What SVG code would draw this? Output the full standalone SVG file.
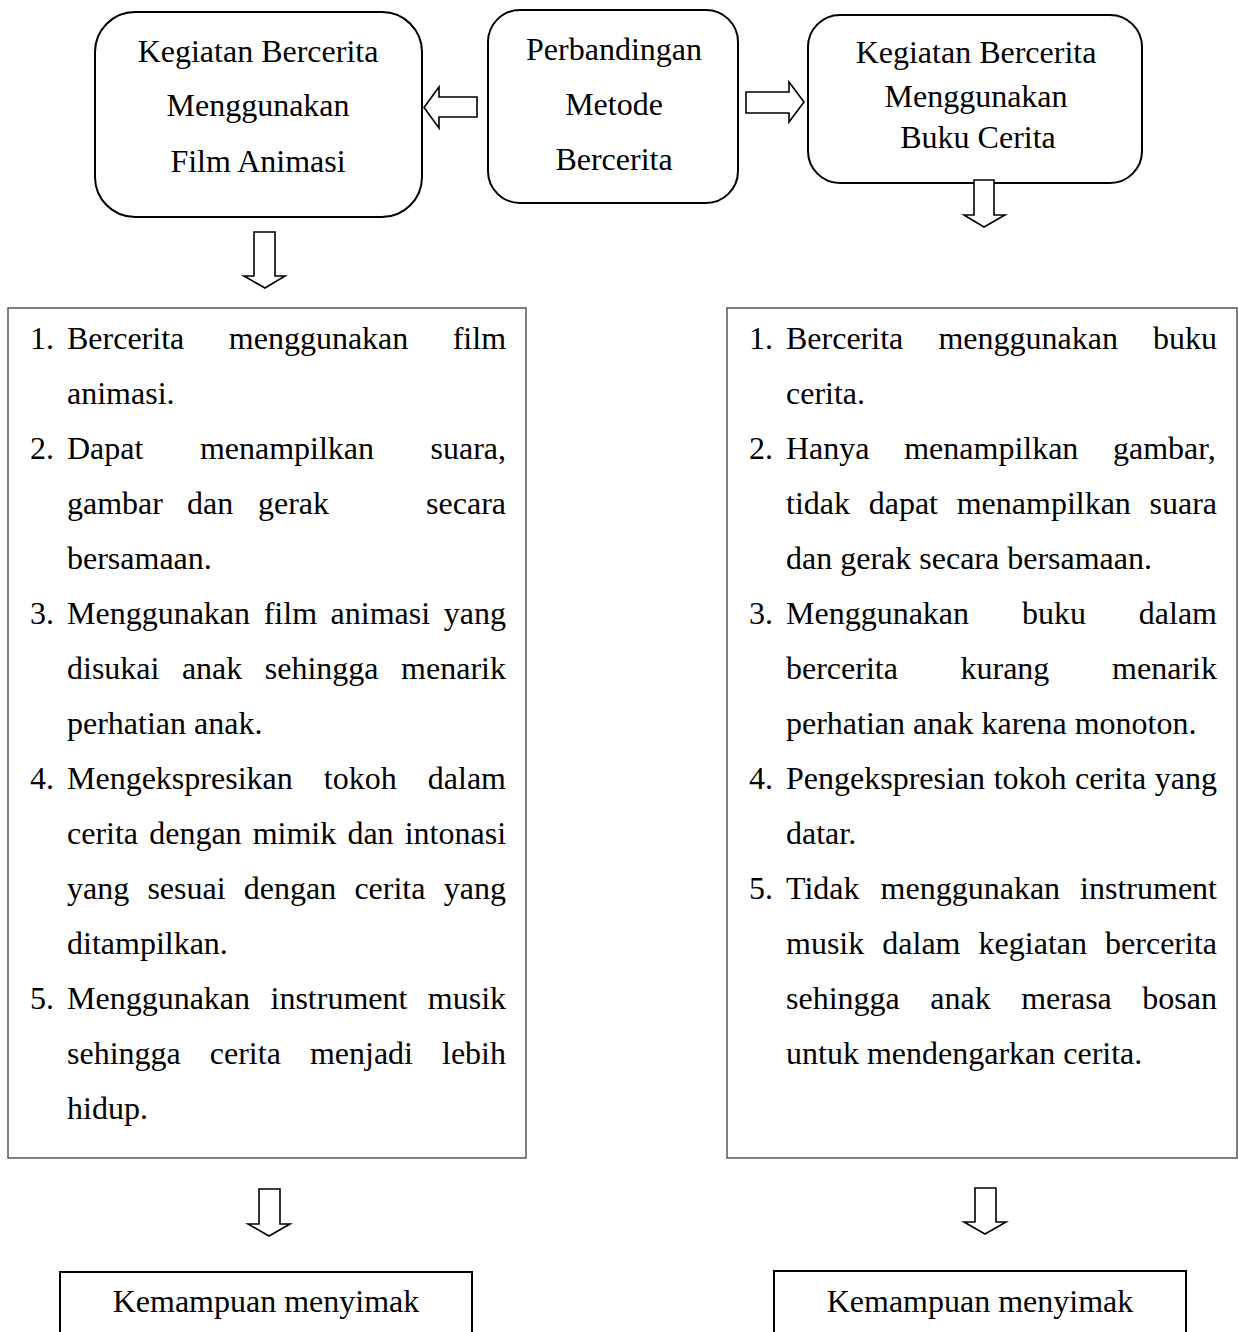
<svg xmlns="http://www.w3.org/2000/svg" width="1238" height="1332" viewBox="0 0 1238 1332">
<style>
.t{font-family:"Liberation Serif","Times New Roman",serif;font-size:32px;fill:#000}
.c{text-anchor:middle}
.rb{fill:#fff;stroke:#000;stroke-width:2}
.lb{fill:#fff;stroke:#555;stroke-width:1.5}
.ar{fill:#fff;stroke:#000;stroke-width:1.6;stroke-linejoin:miter}
</style>
<rect width="1238" height="1332" fill="#fff"/>

<g id="node-film">
<rect class="rb" x="95" y="12" width="327" height="205" rx="40"/>
<text class="t c" x="258" y="62">Kegiatan Bercerita</text>
<text class="t c" x="258" y="116">Menggunakan</text>
<text class="t c" x="258" y="172">Film Animasi</text>
</g>

<g id="node-perbandingan">
<rect class="rb" x="488" y="10" width="250" height="193" rx="32"/>
<text class="t c" x="614" y="60">Perbandingan</text>
<text class="t c" x="614" y="115">Metode</text>
<text class="t c" x="614" y="170">Bercerita</text>
</g>

<g id="node-buku">
<rect class="rb" x="808" y="15" width="334" height="168" rx="32"/>
<text class="t c" x="976" y="63">Kegiatan Bercerita</text>
<text class="t c" x="976" y="107">Menggunakan</text>
<text class="t c" x="978" y="148">Buku Cerita</text>
</g>

<g id="node-list-film">
<rect class="lb" x="8" y="308" width="518" height="850"/>
<text class="t" y="349"><tspan x="30">1.</tspan><tspan x="67">Bercerita</tspan><tspan x="228.8">menggunakan</tspan><tspan x="452.7">film</tspan></text>
<text class="t" y="404"><tspan x="67">animasi.</tspan></text>
<text class="t" y="459"><tspan x="30">2.</tspan><tspan x="67">Dapat</tspan><tspan x="199.9">menampilkan</tspan><tspan x="430.5">suara,</tspan></text>
<text class="t" y="514"><tspan x="67">gambar</tspan><tspan x="187">dan</tspan><tspan x="258">gerak</tspan><tspan x="426.1">secara</tspan></text>
<text class="t" y="569"><tspan x="67">bersamaan.</tspan></text>
<text class="t" y="624"><tspan x="30">3.</tspan><tspan x="67">Menggunakan</tspan><tspan x="263.7">film</tspan><tspan x="330.6">animasi</tspan><tspan x="443.8">yang</tspan></text>
<text class="t" y="679"><tspan x="67">disukai</tspan><tspan x="181.9">anak</tspan><tspan x="264.8">sehingga</tspan><tspan x="401.1">menarik</tspan></text>
<text class="t" y="734"><tspan x="67">perhatian anak.</tspan></text>
<text class="t" y="789"><tspan x="30">4.</tspan><tspan x="67">Mengekspresikan</tspan><tspan x="323.8">tokoh</tspan><tspan x="427.8">dalam</tspan></text>
<text class="t" y="844"><tspan x="67">cerita</tspan><tspan x="149.2">dengan</tspan><tspan x="252.7">mimik</tspan><tspan x="347.4">dan</tspan><tspan x="404.7">intonasi</tspan></text>
<text class="t" y="899"><tspan x="67">yang</tspan><tspan x="147.4">sesuai</tspan><tspan x="243.8">dengan</tspan><tspan x="354.4">cerita</tspan><tspan x="443.8">yang</tspan></text>
<text class="t" y="954"><tspan x="67">ditampilkan.</tspan></text>
<text class="t" y="1009"><tspan x="30">5.</tspan><tspan x="67">Menggunakan</tspan><tspan x="270.5">instrument</tspan><tspan x="427.8">musik</tspan></text>
<text class="t" y="1064"><tspan x="67">sehingga</tspan><tspan x="209.8">cerita</tspan><tspan x="309.9">menjadi</tspan><tspan x="442">lebih</tspan></text>
<text class="t" y="1119"><tspan x="67">hidup.</tspan></text>
</g>

<g id="node-list-buku">
<rect class="lb" x="727" y="308" width="510" height="850"/>
<text class="t" y="349"><tspan x="749">1.</tspan><tspan x="786">Bercerita</tspan><tspan x="938.4">menggunakan</tspan><tspan x="1153">buku</tspan></text>
<text class="t" y="404"><tspan x="786">cerita.</tspan></text>
<text class="t" y="459"><tspan x="749">2.</tspan><tspan x="786">Hanya</tspan><tspan x="904.2">menampilkan</tspan><tspan x="1113">gambar,</tspan></text>
<text class="t" y="514"><tspan x="786">tidak</tspan><tspan x="868.7">dapat</tspan><tspan x="956.7">menampilkan</tspan><tspan x="1149.5">suara</tspan></text>
<text class="t" y="569"><tspan x="786">dan gerak secara bersamaan.</tspan></text>
<text class="t" y="624"><tspan x="749">3.</tspan><tspan x="786">Menggunakan</tspan><tspan x="1022">buku</tspan><tspan x="1138.8">dalam</tspan></text>
<text class="t" y="679"><tspan x="786">bercerita</tspan><tspan x="960.5">kurang</tspan><tspan x="1112.1">menarik</tspan></text>
<text class="t" y="734"><tspan x="786">perhatian anak karena monoton.</tspan></text>
<text class="t" y="789"><tspan x="749">4.</tspan><tspan x="786">Pengekspresian</tspan><tspan x="993.7">tokoh</tspan><tspan x="1075.1">cerita</tspan><tspan x="1154.8">yang</tspan></text>
<text class="t" y="844"><tspan x="786">datar.</tspan></text>
<text class="t" y="899"><tspan x="749">5.</tspan><tspan x="786">Tidak</tspan><tspan x="880.6">menggunakan</tspan><tspan x="1080.1">instrument</tspan></text>
<text class="t" y="954"><tspan x="786">musik</tspan><tspan x="882.3">dalam</tspan><tspan x="978.6">kegiatan</tspan><tspan x="1105.1">bercerita</tspan></text>
<text class="t" y="1009"><tspan x="786">sehingga</tspan><tspan x="930.3">anak</tspan><tspan x="1021.2">merasa</tspan><tspan x="1142.3">bosan</tspan></text>
<text class="t" y="1064"><tspan x="786">untuk mendengarkan cerita.</tspan></text>
</g>

<g id="node-hasil-film">
<rect class="rb" x="60" y="1272" width="412" height="80"/>
<text class="t c" x="266" y="1312">Kemampuan menyimak</text>
</g>

<g id="node-hasil-buku">
<rect class="rb" x="774" y="1271" width="412" height="80"/>
<text class="t c" x="980" y="1312">Kemampuan menyimak</text>
</g>

<g id="connectors">
<polygon class="ar" points="424,107.5 439,87 439,97 477,97 477,117 439,117 439,128"/>
<polygon class="ar" points="746,92 789,92 789,82 804,102 789,122 789,113 746,113"/>
<polygon class="ar" points="254,232 275,232 275,276 285,276 265,288 244,276 254,276"/>
<polygon class="ar" points="974,180 994,180 994,215 1005,215 984,227 964,215 974,215"/>
<polygon class="ar" points="259,1189 280,1189 280,1224 290,1224 269,1236 248,1224 259,1224"/>
<polygon class="ar" points="975,1188 996,1188 996,1222 1006,1222 985,1234 964,1222 975,1222"/>
</g>
</svg>
